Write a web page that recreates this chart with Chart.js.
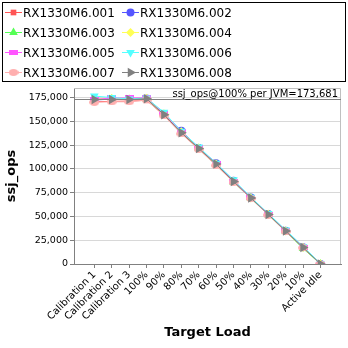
<!DOCTYPE html>
<html>
<head>
<meta charset="utf-8">
<script src="https://cdn.jsdelivr.net/npm/chart.js@4"></script>
<style>
  html, body { margin: 0; padding: 0; background: #fff; }
  #wrap { width: 348px; height: 348px; }
</style>
</head>
<body>
<div id="wrap"><canvas id="ssjChart" width="348" height="348"></canvas></div>
<script>
// Target load levels along the x axis
var loadLabels = ['Calibration 1', 'Calibration 2', 'Calibration 3', '100%', '90%', '80%', '70%',
                  '60%', '50%', '40%', '30%', '20%', '10%', 'Active Idle'];

// ssj_ops for each JVM
var jvmNames = ['RX1330M6.001', 'RX1330M6.002', 'RX1330M6.003', 'RX1330M6.004',
                'RX1330M6.005', 'RX1330M6.006', 'RX1330M6.007', 'RX1330M6.008'];
var ops001 = [170500, 171000, 171200, 172000, 156500, 137500, 121000, 104000, 86500, 69200, 52000, 34500, 17300, 0];
var ops002 = [172500, 173200, 173000, 174000, 157500, 140000, 122000, 106000, 87500, 69800, 52600, 35000, 17600, 0];
var ops003 = [173500, 173500, 173000, 173500, 157000, 138500, 121500, 104500, 86000, 69000, 51800, 34200, 16200, 0];
var ops004 = [174000, 174000, 173500, 174200, 158000, 139000, 122000, 105000, 87000, 69500, 52200, 34800, 17400, 0];
var ops005 = [173000, 174500, 174500, 174800, 158200, 139500, 122500, 105500, 87200, 69700, 52400, 35200, 17800, 0];
var ops006 = [176500, 175000, 173500, 174500, 159500, 139500, 123000, 106000, 88500, 70200, 53000, 35800, 18500, 500];
var ops007 = [170000, 170500, 170500, 172500, 155800, 136800, 120500, 103500, 86000, 68800, 51500, 34000, 17000, 0];
var ops008 = [172800, 173000, 172800, 173681, 157000, 138000, 121500, 105000, 86800, 69300, 52100, 34600, 17300, 0];
var allOps = [ops001, ops002, ops003, ops004, ops005, ops006, ops007, ops008];

// y axis
var yTicks = [0, 25000, 50000, 75000, 100000, 125000, 150000, 175000];
var yMax = 185000;
var refOps = 173681;

var colors = ['#ff5555', '#5555ff', '#55ff55', '#ffff55', '#ff55ff', '#55ffff', '#ffafaf', '#808080'];

// small canvases for the marker shapes Chart.js does not have
function shapeCanvas(w, h, color, draw) {
    var c = document.createElement('canvas');
    c.width = w; c.height = h;
    var g = c.getContext('2d');
    g.fillStyle = color;
    draw(g, w, h);
    return c;
}
var flatRect = shapeCanvas(9, 5, colors[4], function (g, w, h) { g.fillRect(0, 0, w, h); });
var oval = shapeCanvas(10, 7, colors[6], function (g, w, h) {
    g.beginPath(); g.ellipse(w / 2, h / 2, w / 2, h / 2, 0, 0, Math.PI * 2); g.fill();
});

var markers = [
    { pointStyle: 'rect', rotation: 0, radius: 4 },
    { pointStyle: 'circle', rotation: 0, radius: 4 },
    { pointStyle: 'triangle', rotation: 0, radius: 5 },
    { pointStyle: 'rectRot', rotation: 0, radius: 4.5 },
    { pointStyle: flatRect, rotation: 0, radius: 4 },
    { pointStyle: 'triangle', rotation: 180, radius: 5 },
    { pointStyle: oval, rotation: 0, radius: 4 },
    { pointStyle: 'triangle', rotation: 90, radius: 5.5 }
];

var datasets = jvmNames.map(function (name, i) {
    return {
        label: name,
        data: allOps[i].map(function (v, k) { return { x: k, y: v }; }),
        borderColor: colors[i],
        backgroundColor: colors[i],
        borderWidth: 1,
        pointStyle: markers[i].pointStyle,
        pointRotation: markers[i].rotation,
        pointRadius: markers[i].radius,
        pointBorderWidth: 0,
        pointHoverRadius: markers[i].radius,
        order: jvmNames.length - i
    };
});

// legend box with two columns, drawn above the plot
var legendBox = {
    id: 'legendBox',
    afterDraw: function (chart) {
        var ctx = chart.ctx;
        ctx.save();
        ctx.strokeStyle = '#000';
        ctx.lineWidth = 1;
        ctx.strokeRect(2.5, 2.5, 343, 79);
        ctx.font = '12px "DejaVu Sans"';
        ctx.textBaseline = 'middle';
        jvmNames.forEach(function (name, i) {
            var col = i % 2, row = Math.floor(i / 2);
            var x0 = 5 + col * 117, y = 12.5 + row * 20;
            ctx.strokeStyle = colors[i];
            ctx.fillStyle = colors[i];
            ctx.lineWidth = 1;
            ctx.beginPath();
            ctx.moveTo(x0, y);
            ctx.lineTo(x0 + 17, y);
            ctx.stroke();
            Chart.helpers.drawPoint(ctx, {
                pointStyle: markers[i].pointStyle,
                rotation: markers[i].rotation,
                radius: markers[i].radius,
                borderWidth: 0
            }, x0 + 8.5, y);
            ctx.fillStyle = '#000';
            ctx.fillText(name, x0 + 18, y + 1);
        });
        ctx.restore();
    }
};

// frame on top/right, plus the 100% reference line and its label
var refLine = {
    id: 'refLine',
    afterDatasetsDraw: function (chart) {
        var ctx = chart.ctx, a = chart.chartArea;
        var y = Math.round(chart.scales.y.getPixelForValue(refOps)) + 0.5;
        ctx.save();
        ctx.strokeStyle = '#c0c0c0';
        ctx.lineWidth = 1;
        ctx.beginPath();
        ctx.moveTo(a.left, a.top + 0.5);
        ctx.lineTo(a.right - 0.5, a.top + 0.5);
        ctx.lineTo(a.right - 0.5, a.bottom);
        ctx.stroke();
        ctx.strokeStyle = '#808080';
        ctx.beginPath();
        ctx.moveTo(a.left, y);
        ctx.lineTo(a.right, y);
        ctx.stroke();
        ctx.fillStyle = '#000';
        ctx.font = '10px "DejaVu Sans"';
        ctx.textAlign = 'right';
        ctx.textBaseline = 'alphabetic';
        ctx.fillText('ssj_ops@100% per JVM=' + refOps.toLocaleString('en-US'), a.right - 3, y - 3);
        ctx.restore();
    }
};

Chart.defaults.font.family = '"DejaVu Sans"';
Chart.defaults.color = '#000';

new Chart(document.getElementById('ssjChart').getContext('2d'), {
    type: 'line',
    data: { datasets: datasets },
    plugins: [legendBox, refLine],
    options: {
        responsive: false,
        animation: false,
        events: [],
        layout: { padding: { top: 88, right: 7, left: 0, bottom: 0 } },
        plugins: {
            legend: { display: false },
            tooltip: { enabled: false }
        },
        scales: {
            x: {
                type: 'linear',
                min: -1.17,
                max: 14.18,
                afterBuildTicks: function (scale) {
                    scale.ticks = loadLabels.map(function (l, k) { return { value: k }; });
                },
                afterFit: function (scale) { scale.height = 84; },
                ticks: {
                    autoSkip: false,
                    minRotation: 45,
                    maxRotation: 45,
                    padding: 1,
                    font: { size: 10 },
                    callback: function (v) { return loadLabels[v]; }
                },
                grid: { drawOnChartArea: false, tickLength: 4, tickColor: '#808080' },
                border: { color: '#808080' },
                title: {
                    display: true,
                    text: 'Target Load',
                    font: { size: 13, weight: 'bold' },
                    padding: { top: 0, bottom: 8 }
                }
            },
            y: {
                min: 0,
                max: yMax,
                afterBuildTicks: function (scale) {
                    scale.ticks = yTicks.map(function (v) { return { value: v }; });
                },
                afterFit: function (scale) { scale.width = 74; },
                ticks: {
                    padding: 2,
                    font: { size: 9.5 },
                    callback: function (v) { return v.toLocaleString('en-US'); }
                },
                grid: {
                    color: '#d8d8d8',
                    borderDash: [2, 2],
                    tickLength: 4,
                    tickColor: '#808080',
                    tickBorderDash: []
                },
                border: { color: '#808080', dash: [] },
                title: {
                    display: true,
                    text: 'ssj_ops',
                    font: { size: 13, weight: 'bold' },
                    padding: { top: 4, bottom: 0 }
                }
            }
        }
    }
});
</script>
</body>
</html>
